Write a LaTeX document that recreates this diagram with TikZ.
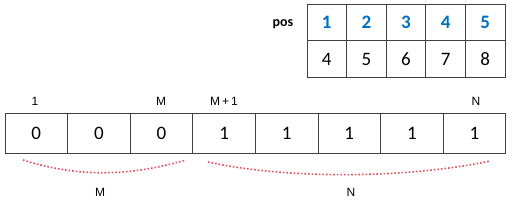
\documentclass[tikz,border=0pt]{standalone}
\usepackage{fontspec}
\setmainfont{Carlito}
\newfontfamily\lblfont{Liberation Sans}
\usetikzlibrary{positioning}
\definecolor{posblue}{RGB}{0,112,192}
\definecolor{arcred}{RGB}{222,80,95}

\begin{document}
\begin{tikzpicture}[x=1pt,y=-1pt,line width=.9pt,
  cell/.style={draw=black!75,minimum width=62.6pt,minimum height=40pt,inner sep=0pt,font=\fontsize{19}{19}\selectfont},
  poscell/.style={draw=black!75,minimum width=39.6pt,minimum height=36pt,inner sep=0pt,font=\fontsize{19}{19}\selectfont},
  idx/.style={font=\lblfont\fontsize{12}{12}\selectfont,inner sep=0pt}]
\useasboundingbox (0,0) rectangle (514,209);
% position table
\node[font=\bfseries\fontsize{14}{14}\selectfont,anchor=east] (pos) at (297,24) {pos};
\foreach \p [count=\i] in {4,5,6,7,8} {
  \node[poscell,text=posblue,font=\bfseries\fontsize{19}{19}\selectfont] (h\i) at (287.2+39.6*\i,22.5) {\i};
  \node[poscell,minimum height=37pt] (v\i) at (287.2+39.6*\i,59) {\p};
}
% bit array
\foreach \b [count=\i] in {0,0,0,1,1,1,1,1}
  \node[cell] (c\i) at (-26.3+62.6*\i,133) {\b};
\node[idx] (l1) at (35,101) {1};
\node[idx] (lM) at (161,101) {M};
\node[idx] (lM1) at (224,101) {M\,+\,1};
\node[idx] (lN) at (476,101) {N};
% braces
\draw[arcred,dotted,line width=1.6pt] (23,160) .. controls (80,178) and (130,176) .. (186,160);
\draw[arcred,dotted,line width=1.6pt] (208,162) .. controls (290,180) and (410,178) .. (490,161);
\node[idx] (bM) at (100,192) {M};
\node[idx] (bN) at (351,192) {N};
\end{tikzpicture}
\end{document}
